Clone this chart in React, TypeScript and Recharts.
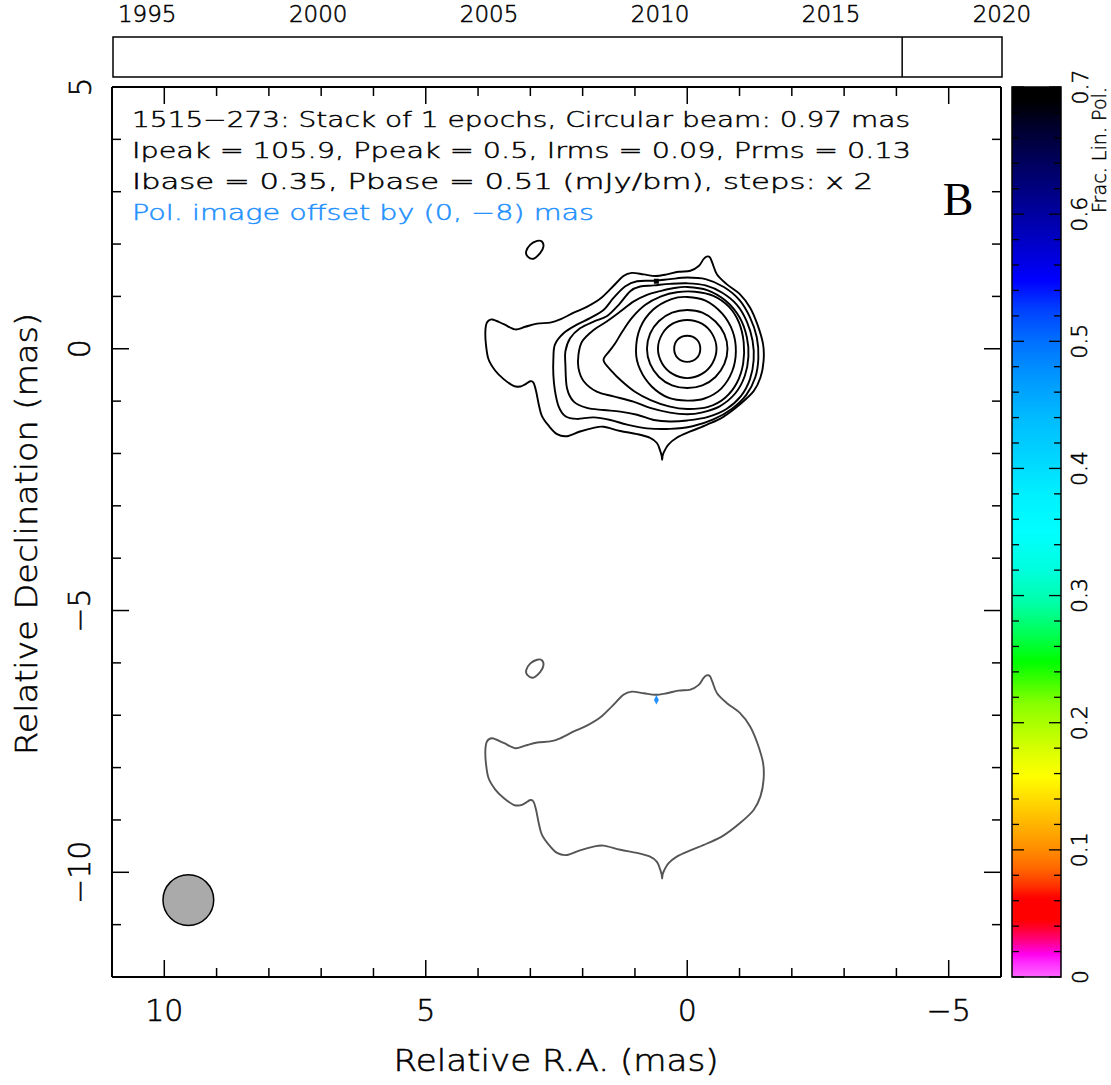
import React from 'react';
import { ScatterChart, Scatter, XAxis, YAxis, ReferenceArea, ReferenceLine, Customized } from 'recharts';

// ---------- layout constants ----------
const W = 1111;
const H = 1085;
const FONT = "'DejaVu Sans', sans-serif";
const FW = 300;
const SERIF = "'Liberation Serif', 'DejaVu Serif', serif";
const POL_BLUE = '#1e90ff';
const POL_GRAY = '#555555';
const PLOT_W = 889;

// ---------- axes ----------
const RA_MIN = -6;
const RA_MAX = 11;
const DEC_MIN = -12;
const DEC_MAX = 5;
const raTicks = [-6, -5, -4, -3, -2, -1, 0, 1, 2, 3, 4, 5, 6, 7, 8, 9, 10, 11];
const decTicks = [-12, -11, -10, -9, -8, -7, -6, -5, -4, -3, -2, -1, 0, 1, 2, 3, 4, 5];

// ---------- timeline ----------
const yearDomain = [1994, 2020];
const yearTicks = [1995, 2000, 2005, 2010, 2015, 2020];
const epochs = [2017.08];

// ---------- colour bar ----------
const cbTicks = [0, 0.02, 0.04, 0.06, 0.08, 0.1, 0.12, 0.14, 0.16, 0.18, 0.2, 0.22, 0.24, 0.26, 0.28, 0.3,
  0.32, 0.34, 0.36, 0.38, 0.4, 0.42, 0.44, 0.46, 0.48, 0.5, 0.52, 0.54, 0.56, 0.58, 0.6, 0.62, 0.64, 0.66, 0.68, 0.7];
const CB_MAX = 0.7;
const cbStops: [number, string][] = [
  [0.0, '#ff66ff'], [0.01, '#ff33ff'], [0.018, '#ff00ee'], [0.028, '#ff0088'], [0.038, '#ff0033'],
  [0.045, '#ff0000'], [0.062, '#ff0000'], [0.072, '#ff3300'], [0.085, '#ff6600'], [0.1, '#ff8c00'],
  [0.115, '#ffaa00'], [0.13, '#ffc800'], [0.145, '#ffe600'], [0.158, '#ffff00'], [0.175, '#e0ff00'],
  [0.195, '#b4ff00'], [0.215, '#88ff00'], [0.232, '#40ff00'], [0.248, '#00ff00'], [0.27, '#00ff55'],
  [0.295, '#00ffaa'], [0.32, '#00ffdd'], [0.35, '#00ffff'], [0.38, '#00f0ff'], [0.41, '#00d4ff'],
  [0.44, '#00bbff'], [0.47, '#0099ff'], [0.5, '#0070ff'], [0.525, '#0040ff'], [0.548, '#0000ff'],
  [0.575, '#0000cc'], [0.605, '#000099'], [0.635, '#000066'], [0.665, '#000033'], [0.69, '#000000'],
  [0.7, '#000000'],
];

// ---------- beam / offsets ----------
const beam = [[9.54, -10.53]];
const BEAM_MAS = 0.97;
const POL_OFFSET_DEC = -8;
const polPeak = [[0.59, 1.29]];

// ---------- Stokes I contours (RA, Dec in mas) ----------
const c1: [number, number][] = [
  [3.73, 0.56], [3.51, 0.47], [3.29, 0.37], [3.10, 0.42], [2.87, 0.48], [2.62, 0.50], [2.43, 0.56],
  [2.17, 0.69], [1.92, 0.80], [1.66, 0.96], [1.44, 1.17], [1.22, 1.39], [1.06, 1.45], [0.83, 1.42],
  [0.61, 1.39], [0.39, 1.42], [0.17, 1.47], [-0.06, 1.49], [-0.22, 1.58], [-0.31, 1.71], [-0.37, 1.76],
  [-0.43, 1.75], [-0.48, 1.64], [-0.57, 1.42], [-0.76, 1.23], [-1.01, 1.04], [-1.20, 0.79], [-1.34, 0.47],
  [-1.45, 0.09], [-1.46, -0.23], [-1.40, -0.55], [-1.27, -0.81], [-1.01, -1.06], [-0.69, -1.30],
  [-0.38, -1.45], [-0.06, -1.58], [0.20, -1.70], [0.36, -1.83], [0.44, -1.96], [0.47, -2.04], [0.48, -2.12],
  [0.49, -2.04], [0.52, -1.94], [0.58, -1.80], [0.71, -1.70], [0.96, -1.63], [1.28, -1.57], [1.60, -1.49],
  [1.79, -1.51], [2.05, -1.58], [2.30, -1.67], [2.49, -1.63], [2.65, -1.47], [2.78, -1.28], [2.84, -1.06],
  [2.89, -0.81], [2.94, -0.65], [3.00, -0.62], [3.10, -0.68], [3.19, -0.72], [3.32, -0.71], [3.51, -0.58],
  [3.67, -0.42], [3.80, -0.20], [3.85, 0.09], [3.86, 0.34], [3.83, 0.50],
];
const island: [number, number][] = [
  [2.78, 2.05], [2.75, 1.95], [2.81, 1.83], [2.94, 1.72], [3.05, 1.76], [3.08, 1.86], [3.00, 1.99], [2.87, 2.06],
];
const c2: [number, number][] = [
  [2.56, -0.20], [2.53, 0.08], [2.36, 0.30], [2.11, 0.46], [1.85, 0.59], [1.60, 0.74], [1.41, 0.97],
  [1.19, 1.19], [0.96, 1.29], [0.61, 1.30], [0.33, 1.33], [0.00, 1.36], [-0.35, 1.33], [-0.70, 1.18],
  [-1.00, 0.93], [-1.20, 0.60], [-1.33, 0.22], [-1.36, -0.18], [-1.30, -0.55], [-1.13, -0.88],
  [-0.85, -1.15], [-0.50, -1.35], [-0.10, -1.48], [0.33, -1.53], [0.77, -1.52], [1.15, -1.45],
  [1.47, -1.36], [1.79, -1.31], [2.11, -1.34], [2.33, -1.29], [2.46, -1.10], [2.53, -0.80], [2.56, -0.50],
];
const c3: [number, number][] = [
  [2.33, -0.30], [2.33, -0.05], [2.24, 0.20], [2.05, 0.39], [1.79, 0.52], [1.54, 0.62], [1.31, 0.84],
  [1.09, 1.10], [0.90, 1.19], [0.64, 1.21], [0.33, 1.24], [0.00, 1.25], [-0.35, 1.21], [-0.67, 1.07],
  [-0.95, 0.84], [-1.14, 0.52], [-1.25, 0.15], [-1.27, -0.22], [-1.20, -0.58], [-1.03, -0.90],
  [-0.75, -1.15], [-0.40, -1.30], [0.00, -1.37], [0.33, -1.39], [0.64, -1.36], [0.96, -1.26],
  [1.28, -1.20], [1.60, -1.17], [1.92, -1.13], [2.17, -1.01], [2.30, -0.75],
];
const c4: [number, number][] = [
  [2.08, -0.11], [2.01, 0.14], [1.79, 0.36], [1.54, 0.52], [1.28, 0.71], [1.03, 0.90], [0.77, 1.03],
  [0.52, 1.10], [0.25, 1.16], [0.00, 1.18], [-0.38, 1.12], [-0.73, 0.92], [-1.00, 0.60], [-1.14, 0.22],
  [-1.17, -0.15], [-1.10, -0.52], [-0.92, -0.85], [-0.62, -1.10], [-0.27, -1.22], [0.00, -1.25],
  [0.33, -1.22], [0.71, -1.13], [1.03, -1.01], [1.41, -0.91], [1.73, -0.82], [1.98, -0.62], [2.08, -0.37],
];
const c5: [number, number][] = [
  [1.60, -0.22], [1.50, -0.06], [1.38, 0.10], [1.24, 0.33], [1.05, 0.60], [0.80, 0.84], [0.50, 1.00],
  [0.20, 1.08], [-0.15, 1.09], [-0.50, 1.01], [-0.80, 0.80], [-0.99, 0.50], [-1.08, 0.12], [-1.07, -0.28],
  [-0.95, -0.65], [-0.72, -0.94], [-0.40, -1.11], [0.00, -1.15], [0.35, -1.10], [0.70, -0.98],
  [1.00, -0.82], [1.25, -0.62], [1.45, -0.42],
];
const c6: [number, number][] = [
  [0.98, -0.05], [0.90, 0.40], [0.65, 0.75], [0.30, 0.95], [0.00, 0.99], [-0.35, 0.92], [-0.67, 0.67],
  [-0.87, 0.33], [-0.93, -0.05], [-0.86, -0.43], [-0.65, -0.76], [-0.33, -0.95], [0.00, -0.99],
  [0.35, -0.94], [0.68, -0.72], [0.90, -0.40],
];
const c7: [number, number][] = [
  [0.77, 0.00], [0.71, 0.29], [0.54, 0.53], [0.29, 0.69], [0.00, 0.74], [-0.29, 0.69], [-0.54, 0.52],
  [-0.71, 0.28], [-0.77, 0.00], [-0.71, -0.29], [-0.54, -0.54], [-0.29, -0.70], [0.00, -0.75],
  [0.29, -0.70], [0.54, -0.54], [0.71, -0.29],
];
const c8: [number, number][] = [
  [0.56, 0.00], [0.48, 0.28], [0.28, 0.48], [0.00, 0.55], [-0.28, 0.48], [-0.48, 0.28], [-0.56, 0.00],
  [-0.48, -0.28], [-0.28, -0.48], [0.00, -0.56], [0.28, -0.48], [0.48, -0.28],
];
const c9: [number, number][] = [
  [0.25, 0.00], [0.18, 0.18], [0.00, 0.25], [-0.18, 0.18], [-0.25, 0.00], [-0.18, -0.18], [0.00, -0.25], [0.18, -0.18],
];

const iContours = [c1, island, c2, c3, c4, c5, c6, c7, c8, c9];
const polContours = [c1, island];

// ---------- helpers ----------
const toPts = (arr: number[][], dy = 0) => arr.map(([x, y]) => ({ x, y: y + dy }));

const closedSmooth: any = (context: any) => {
  let pts: number[][] = [];
  return {
    areaStart() {},
    areaEnd() {},
    lineStart() { pts = []; },
    point(x: number, y: number) { pts.push([+x, +y]); },
    lineEnd() {
      const n = pts.length;
      if (!n) return;
      context.moveTo(pts[0][0], pts[0][1]);
      for (let i = 0; i < n; i++) {
        const p0 = pts[(i - 1 + n) % n];
        const p1 = pts[i];
        const p2 = pts[(i + 1) % n];
        const p3 = pts[(i + 2) % n];
        context.bezierCurveTo(
          p1[0] + (p2[0] - p0[0]) / 6, p1[1] + (p2[1] - p0[1]) / 6,
          p2[0] - (p3[0] - p1[0]) / 6, p2[1] - (p3[1] - p1[1]) / 6,
          p2[0], p2[1],
        );
      }
      context.closePath();
    },
  };
};

// text styling: light face with a hairline stroke, to mimic the thin plotter font
const txt = (color = '#000', sw = 0.55) => ({
  fontFamily: FONT,
  fontWeight: FW,
  fill: color,
  stroke: color,
  strokeWidth: sw,
});

const noShape = () => <g />;
const fmtNum = (v: number) => (v < 0 ? '\u2212' + Math.abs(v) : String(v));
const isMajor = (v: number) => Math.abs(v % 5) < 1e-9;
const MAJOR = 17;
const MINOR = 9;
const TICK_W = 1.5;

const BottomTick = (p: any) => {
  const v = p.payload.value;
  const M = isMajor(v);
  return (
    <g>
      <line x1={p.x} x2={p.x} y1={p.y} y2={p.y - (M ? MAJOR : MINOR)} stroke="#000" strokeWidth={TICK_W} />
      {M && (
        <text x={p.x} y={p.y + 33} textAnchor="middle" dominantBaseline="central" fontSize={30} {...txt()}>
          {fmtNum(v)}
        </text>
      )}
    </g>
  );
};
const TopTick = (p: any) => {
  const M = isMajor(p.payload.value);
  return <line x1={p.x} x2={p.x} y1={p.y} y2={p.y + (M ? MAJOR : MINOR)} stroke="#000" strokeWidth={TICK_W} />;
};
const LeftTick = (p: any) => {
  const v = p.payload.value;
  const M = isMajor(v);
  const lx = p.x - 32;
  return (
    <g>
      <line x1={p.x} x2={p.x + (M ? MAJOR : MINOR)} y1={p.y} y2={p.y} stroke="#000" strokeWidth={TICK_W} />
      {M && (
        <text x={lx} y={p.y} transform={`rotate(-90, ${lx}, ${p.y})`} textAnchor="middle" dominantBaseline="central"
          fontSize={30} {...txt()}>
          {fmtNum(v)}
        </text>
      )}
    </g>
  );
};
const RightTick = (p: any) => {
  const M = isMajor(p.payload.value);
  return <line x1={p.x} x2={p.x - (M ? MAJOR : MINOR)} y1={p.y} y2={p.y} stroke="#000" strokeWidth={TICK_W} />;
};

const YearTick = (p: any) => (
  <text x={p.x} y={p.y - 15} textAnchor="middle" fontSize={23} {...txt()}>
    {p.payload.value}
  </text>
);

const cbIsMajor = (v: number) => Math.abs(v * 10 - Math.round(v * 10)) < 1e-6;
const CbLeftTick = (p: any) => {
  const M = cbIsMajor(p.payload.value);
  return <line x1={p.x} x2={p.x + (M ? 12 : 7)} y1={p.y} y2={p.y} stroke="#000" strokeWidth={1.3} />;
};
const CbRightTick = (p: any) => {
  const v = p.payload.value;
  const M = cbIsMajor(v);
  const lx = p.x + 19;
  return (
    <g>
      <line x1={p.x} x2={p.x - (M ? 12 : 7)} y1={p.y} y2={p.y} stroke="#000" strokeWidth={1.3} />
      {M && (
        <text x={lx} y={p.y} transform={`rotate(-90, ${lx}, ${p.y})`} textAnchor="middle" dominantBaseline="central"
          fontSize={22} {...txt()}>
          {v === 0 ? '0' : v.toFixed(1)}
        </text>
      )}
    </g>
  );
};

const infoLines = [
  { text: '1515\u2212273: Stack of 1 epochs, Circular beam: 0.97 mas', color: '#000', len: 778 },
  { text: 'Ipeak = 105.9, Ppeak = 0.5, Irms = 0.09, Prms = 0.13', color: '#000', len: 779 },
  { text: 'Ibase = 0.35, Pbase = 0.51 (mJy/bm), steps: x 2', color: '#000', len: 741 },
  { text: 'Pol. image offset by (0, \u22128) mas', color: POL_BLUE, len: 462 },
];

const MainTexts = () => (
  <g>
    {infoLines.map((l, i) => (
      <text key={i} x={132} y={127 + i * 31} fontSize={21} {...txt(l.color, 0.45)}
        textLength={l.len} lengthAdjust="spacingAndGlyphs">
        {l.text}
      </text>
    ))}
    <text x={958} y={215} textAnchor="middle" fontFamily={SERIF} fontSize={46} fill="#000">B</text>
    <text x={556} y={1060} textAnchor="middle" dominantBaseline="central" fontSize={30} {...txt()}
      textLength={325} lengthAdjust="spacingAndGlyphs">
      Relative R.A. (mas)
    </text>
    <text x={26} y={534} transform="rotate(-90, 26, 534)" textAnchor="middle" dominantBaseline="central"
      fontSize={30} {...txt()} textLength={442} lengthAdjust="spacingAndGlyphs">
      Relative Declination (mas)
    </text>
  </g>
);

const CbTitle = () => (
  <text x={1099} y={87} transform="rotate(-90, 1099, 87)" textAnchor="end" dominantBaseline="central"
    fontSize={19} {...txt('#000', 0.4)} textLength={126} lengthAdjust="spacingAndGlyphs">
    Frac. Lin. Pol.
  </text>
);

const beamPx = (BEAM_MAS / 2) * (PLOT_W / (RA_MAX - RA_MIN));
const BeamShape = (p: any) => <circle cx={p.cx} cy={p.cy} r={beamPx} fill="#aaaaaa" stroke="#000" strokeWidth={1.5} />;
const SquareShape = (p: any) => <rect x={p.cx - 2.5} y={p.cy - 2.5} width={5} height={5} fill="#000" />;
const DiamondShape = (p: any) => (
  <path d={`M${p.cx},${p.cy - 5} L${p.cx + 2.4},${p.cy} L${p.cx},${p.cy + 4.5} L${p.cx - 2.4},${p.cy} Z`} fill={POL_BLUE} />
);

const layer: React.CSSProperties = { position: 'absolute', left: 0, top: 0 };

export default function App() {
  return (
    <div style={{ position: 'absolute', left: 0, top: 0, width: W, height: H, background: '#fff' }}>
      {/* main map */}
      <div style={layer}>
        <ScatterChart width={W} height={H} margin={{ top: 57, right: 80, bottom: 78, left: 72 }}>
          <XAxis xAxisId={0} type="number" dataKey="x" domain={[RA_MIN, RA_MAX]} reversed allowDataOverflow
            ticks={raTicks} interval={0} tickSize={0} tickMargin={0} tickLine={false} height={30}
            axisLine={{ stroke: '#000', strokeWidth: 2 }} tick={BottomTick} />
          <XAxis xAxisId="top" orientation="top" type="number" dataKey="x" domain={[RA_MIN, RA_MAX]} reversed
            allowDataOverflow ticks={raTicks} interval={0} tickSize={0} tickMargin={0} tickLine={false} height={30}
            axisLine={{ stroke: '#000', strokeWidth: 2 }} tick={TopTick} />
          <YAxis yAxisId={0} type="number" dataKey="y" domain={[DEC_MIN, DEC_MAX]} allowDataOverflow
            ticks={decTicks} interval={0} tickSize={0} tickMargin={0} tickLine={false} width={40}
            axisLine={{ stroke: '#000', strokeWidth: 2 }} tick={LeftTick} />
          <YAxis yAxisId="right" orientation="right" type="number" dataKey="y" domain={[DEC_MIN, DEC_MAX]}
            allowDataOverflow ticks={decTicks} interval={0} tickSize={0} tickMargin={0} tickLine={false} width={30}
            axisLine={{ stroke: '#000', strokeWidth: 2 }} tick={RightTick} />
          {iContours.map((c, i) => (
            <Scatter key={'i' + i} data={toPts(c)} shape={noShape} line={{ stroke: '#000', strokeWidth: 1.9 }}
              lineType="joint" lineJointType={closedSmooth} isAnimationActive={false} legendType="none" />
          ))}
          {polContours.map((c, i) => (
            <Scatter key={'p' + i} data={toPts(c, POL_OFFSET_DEC)} shape={noShape}
              line={{ stroke: POL_GRAY, strokeWidth: 1.9 }} lineType="joint" lineJointType={closedSmooth}
              isAnimationActive={false} legendType="none" />
          ))}
          <Scatter data={toPts(polPeak)} shape={SquareShape} isAnimationActive={false} legendType="none" />
          <Scatter data={toPts(polPeak, POL_OFFSET_DEC)} shape={DiamondShape} isAnimationActive={false} legendType="none" />
          <Scatter data={toPts(beam)} shape={BeamShape} isAnimationActive={false} legendType="none" />
          <Customized component={MainTexts} />
        </ScatterChart>
      </div>

      {/* epoch timeline */}
      <div style={layer}>
        <ScatterChart width={W} height={H} margin={{ top: 7, right: 109, bottom: 1008, left: 113 }}>
          <XAxis type="number" dataKey="x" orientation="top" domain={yearDomain} allowDataOverflow ticks={yearTicks}
            interval={0} tickSize={0} tickMargin={0} tickLine={false} axisLine={false} height={30} tick={YearTick} />
          <YAxis type="number" dataKey="y" domain={[0, 1]} allowDataOverflow hide width={0} />
          <ReferenceArea x1={yearDomain[0]} x2={yearDomain[1]} y1={0} y2={1} fill="#fff" fillOpacity={1}
            stroke="#000" strokeWidth={1.5} ifOverflow="visible" />
          {epochs.map((e) => (
            <ReferenceLine key={e} x={e} stroke="#000" strokeWidth={1.5} />
          ))}
        </ScatterChart>
      </div>

      {/* colour bar */}
      <div style={layer}>
        <ScatterChart width={W} height={H} margin={{ top: 87, right: 40, bottom: 108, left: 1002 }}>
          <defs>
            <linearGradient id="cbar" x1="0" y1="1" x2="0" y2="0">
              {cbStops.map(([v, c], i) => (
                <stop key={i} offset={v / CB_MAX} stopColor={c} />
              ))}
            </linearGradient>
          </defs>
          <XAxis type="number" dataKey="x" domain={[0, 1]} allowDataOverflow hide height={0} />
          <YAxis yAxisId={0} type="number" dataKey="y" domain={[0, CB_MAX]} allowDataOverflow ticks={cbTicks}
            interval={0} tickSize={0} tickMargin={0} tickLine={false} axisLine={false} width={10} tick={CbLeftTick} />
          <YAxis yAxisId="r" orientation="right" type="number" dataKey="y" domain={[0, CB_MAX]} allowDataOverflow
            ticks={cbTicks} interval={0} tickSize={0} tickMargin={0} tickLine={false} axisLine={false} width={10}
            tick={CbRightTick} />
          <ReferenceArea x1={0} x2={1} y1={0} y2={CB_MAX} fill="url(#cbar)" fillOpacity={1} stroke="#000"
            strokeWidth={1.5} ifOverflow="visible" />
          <Customized component={CbTitle} />
        </ScatterChart>
      </div>
    </div>
  );
}
